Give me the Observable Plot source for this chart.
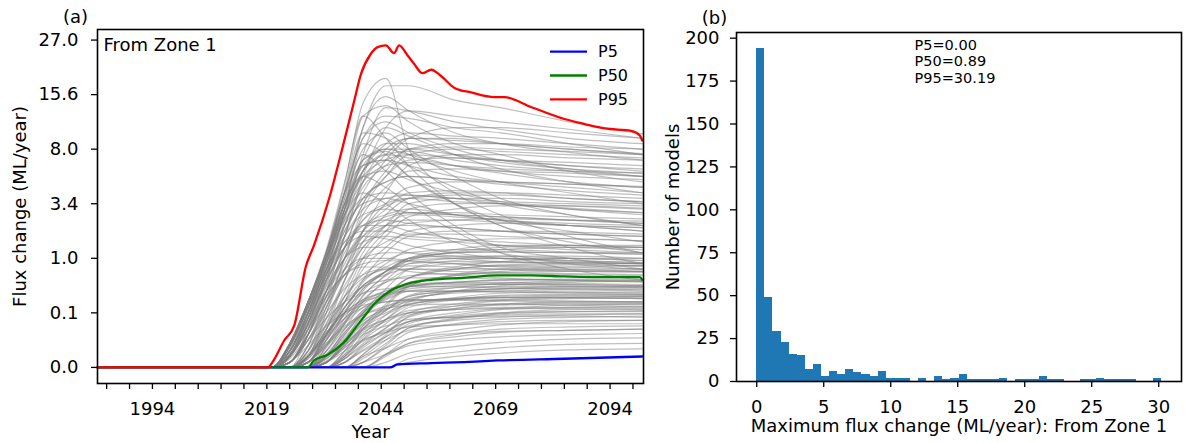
<!DOCTYPE html>
<html>
<head>
<meta charset="utf-8">
<script src="https://cdn.jsdelivr.net/npm/d3@7"></script>
<script src="https://cdn.jsdelivr.net/npm/@observablehq/plot@0.6"></script>
<style>
  body { margin: 0; background: #fff; }
  #wrap { display: flex; width: 1190px; height: 443px; background: #fff; }
</style>
</head>
<body>
<div id="wrap"></div>
<script>
// ---------- Panel (a): flux change through time, one line per model ----------
const GRAY_YEARS = [1982, 2020, 2024, 2028, 2032, 2036, 2040, 2045, 2050, 2060, 2070, 2085, 2101];

// Flux change (ML/year) of each model at GRAY_YEARS
const GRAY_MODELS = [
  // early risers that peak in the 2040s
  [0,0,0.008,0.195,1.16,4.74,14.2,18.6,8.0,4.1,2.74,1.73,1.16],
  [0,0,0.0034,0.125,0.857,3.72,10.6,17.2,17.2,14.7,13.5,11.4,9.8],
  [0,0,0.008,0.166,1.0,4.25,12.2,13.8,11.4,8.62,7.42,5.83,4.91],
  [0,0,0.0106,0.216,1.26,4.91,12.2,9.26,6.33,3.38,2.2,1.33,0.857],
  [0,0,0.0017,0.091,0.729,3.05,9.26,12.2,11.9,10.6,9.94,8.62,7.42],
  [0,0,0.008,0.166,1.0,4.1,9.94,9.26,7.42,5.83,4.91,4.1,3.38],
  [0,0,0.001,0.064,0.614,3.05,10.6,15.3,13.0,9.94,8.62,7.65,6.86],
  [0,0,0.0106,0.216,1.16,4.1,8.62,7.42,5.36,3.38,2.46,1.95,1.52],
  [0,0,0.0001,0.043,0.512,2.46,7.42,13.5,13.0,11.4,10.4,9.26,8.62],
  [0,0,0.0106,0.216,1.16,3.72,7.42,5.83,4.1,2.2,1.33,1.0,0.729],
  [0,0,0.0034,0.091,0.729,2.74,6.86,10.6,9.53,7.42,6.03,4.91,4.1],
  [0,0,0.0001,0.027,0.343,1.73,5.36,10.6,13.0,12.2,11.4,10.4,9.26],
  [0,0,0.008,0.195,1.06,3.38,5.36,4.49,3.38,1.95,1.16,0.729,0.512],
  [0,0,0.0034,0.125,0.857,3.05,6.86,7.76,6.33,4.49,3.38,2.74,2.2],
  [0,0,0.0106,0.216,1.0,2.74,4.1,3.38,2.46,1.52,1.16,0.857,0.729],
  [0,0,0.0034,0.125,0.857,3.38,8.0,9.94,8.0,5.36,3.72,2.74,2.2],
  [0,0,0.001,0.064,0.512,2.2,5.83,8.62,8.62,7.42,6.64,6.03,5.64],
  [0,0,0.0001,0.027,0.343,1.73,4.91,8.0,9.26,9.0,8.62,8.0,7.53],
  [0,0,0.008,0.176,0.941,3.05,6.33,6.86,5.36,3.38,2.2,1.52,1.16],
  [0,0,0.0017,0.091,0.681,2.63,5.83,7.42,7.08,6.33,5.83,5.36,5.09],
  [0,0,0.0106,0.216,1.16,4.1,9.26,11.4,9.94,8.0,6.86,6.03,5.36],
  // high plateau
  [0,0,0.001,0.064,0.729,2.74,5.83,8.62,9.94,9.53,9.26,8.62,8.0],
  [0,0,0,0.027,0.512,2.2,4.91,7.42,9.26,9.26,8.62,8.0,7.42],
  [0,0,0.0034,0.125,1.0,3.05,5.36,6.86,7.42,7.08,6.86,6.64,6.33],
  [0,0,0,0.008,0.216,1.33,3.38,5.83,8.0,8.62,8.62,8.24,8.0],
  [0,0,0.008,0.216,1.16,3.38,5.83,7.42,7.76,6.86,6.33,5.83,5.36],
  [0,0,0,0.001,0.125,1.0,3.05,5.36,7.42,8.0,7.76,7.42,7.08],
  [0,0,0.001,0.091,0.857,2.74,4.91,6.33,6.64,6.33,6.03,5.83,5.64],
  [0,0,0.0001,0.027,0.42,1.73,4.1,6.86,9.26,10.6,10.6,9.94,9.26],
  [0,0,0,0.0034,0.166,1.0,2.74,4.49,5.83,6.03,5.83,5.64,5.36],
  [0,0,0.008,0.195,1.16,4.1,6.33,6.86,6.33,5.36,4.91,4.49,4.1],
  [0,0,0,0.0001,0.043,0.512,1.95,4.1,6.33,7.42,7.42,7.08,6.86],
  [0,0,0.001,0.125,1.0,3.38,6.33,8.0,8.0,7.42,6.86,6.33,5.83],
  [0,0,0,0.008,0.275,1.33,3.38,5.36,6.86,7.08,6.86,6.33,6.03],
  [0,0,0.0001,0.043,0.614,2.2,4.49,6.33,8.0,8.24,8.0,7.76,7.42],
  [0,0,0.008,0.166,1.0,3.38,6.86,8.0,7.42,6.33,5.64,4.91,4.49],
  // middle
  [0,0,0.001,0.064,0.614,1.95,3.72,4.91,5.36,5.09,4.91,4.74,4.49],
  [0,0,0,0.0034,0.125,0.729,1.95,3.38,4.49,4.91,4.91,4.74,4.57],
  [0,0,0.008,0.216,1.0,2.46,3.72,4.1,3.94,3.72,3.51,3.38,3.24],
  [0,0,0,0.001,0.064,0.512,1.52,2.74,3.72,4.1,4.1,3.94,3.72],
  [0,0,0.0001,0.027,0.343,1.16,2.46,3.38,3.72,3.51,3.38,3.05,2.86],
  [0,0,0,0.0001,0.027,0.275,1.0,1.95,3.05,3.38,3.38,3.24,3.05],
  [0,0,0.0034,0.125,0.729,1.73,2.74,3.05,2.86,2.74,2.63,2.46,2.3],
  [0,0,0,0.008,0.166,0.729,1.73,2.46,2.86,2.86,2.74,2.63,2.52],
  [0,0,0,0,0.016,0.216,0.857,1.73,2.63,3.05,3.24,3.24,3.11],
  [0,0,0.001,0.064,0.512,1.33,2.2,2.46,2.3,2.1,1.95,1.82,1.73],
  [0,0,0,0.001,0.091,0.512,1.33,2.2,2.74,2.63,2.46,2.3,2.2],
  [0,0,0.0001,0.027,0.275,1.0,1.73,2.2,2.2,2.1,1.95,1.82,1.73],
  [0,0,0,0.0001,0.027,0.216,0.729,1.33,1.95,2.2,2.3,2.2,2.1],
  [0,0,0.008,0.166,0.729,1.52,1.95,1.95,1.73,1.64,1.52,1.4,1.33],
  [0,0,0,0.0034,0.091,0.42,1.0,1.52,1.82,1.82,1.73,1.64,1.56],
  [0,0,0,0,0.008,0.125,0.512,1.16,1.73,1.95,1.95,1.91,1.82],
  [0,0,0.001,0.043,0.343,1.0,1.52,1.73,1.64,1.52,1.4,1.33,1.26],
  [0,0,0.0001,0.016,0.216,0.857,1.95,3.05,4.1,4.25,4.1,3.72,3.51],
  [0,0,0,0.001,0.043,0.343,1.16,2.2,3.38,3.72,3.72,3.51,3.38],
  [0,0,0.0034,0.091,0.512,1.33,2.2,2.74,3.05,2.74,2.46,2.2,1.95],
  [0,0,0.008,0.166,0.857,2.2,3.38,3.72,3.38,2.74,2.46,2.2,1.95],
  [0,0,0.0058,0.125,0.614,1.52,2.2,2.2,1.95,1.64,1.4,1.26,1.16],
  [0,0,0.0106,0.195,1.0,3.05,5.36,5.83,5.09,4.1,3.51,3.05,2.74],
  [0,0,0.0034,0.091,0.42,1.0,1.33,1.33,1.16,1.0,0.913,0.857,0.804],
  [0,0,0.008,0.141,0.729,1.95,3.72,4.91,5.36,5.09,4.74,4.25,3.94],
  [0,0,0.0017,0.064,0.343,0.729,1.0,1.0,0.941,0.857,0.779,0.729,0.681],
  [0,0,0.001,0.043,0.275,0.614,0.779,0.779,0.681,0.614,0.551,0.512,0.475],
  [0,0,0.0034,0.111,0.614,1.73,3.05,3.72,3.94,3.72,3.38,3.11,2.86],
  [0,0,0.0005,0.027,0.216,0.729,1.52,2.2,2.46,2.46,2.35,2.2,2.1],
  [0,0,0.0001,0.016,0.166,0.614,1.33,1.95,2.3,2.46,2.52,2.46,2.41],
  [0,0,0.001,0.055,0.343,1.0,1.95,2.63,2.86,2.74,2.63,2.46,2.3],
  [0,0,0.0058,0.125,0.614,1.33,1.73,1.64,1.4,1.16,1.0,0.913,0.857],
  [0,0,0.0017,0.074,0.475,1.33,2.46,3.24,3.72,3.94,3.94,3.72,3.51],
  // around 1 ML/year
  [0,0,0,0.001,0.043,0.275,0.614,0.941,1.16,1.26,1.26,1.19,1.16],
  [0,0,0.0001,0.027,0.216,0.614,1.0,1.16,1.16,1.06,1.0,0.941,0.885],
  [0,0,0,0,0.008,0.091,0.343,0.681,1.0,1.16,1.19,1.16,1.12],
  [0,0,0,0.0001,0.027,0.166,0.42,0.681,0.857,0.913,0.913,0.885,0.857],
  [0,0,0.001,0.043,0.275,0.614,0.857,0.941,0.913,0.857,0.804,0.779,0.729],
  [0,0,0,0,0.001,0.043,0.216,0.512,0.857,1.0,1.06,1.06,1.0],
  [0,0,0,0.0034,0.064,0.275,0.551,0.729,0.804,0.779,0.729,0.705,0.681],
  [0,0,0,0,0.0034,0.064,0.275,0.614,1.0,1.26,1.4,1.4,1.33],
  [0,0,0.0001,0.016,0.125,0.373,0.614,0.729,0.729,0.681,0.659,0.636,0.614],
  [0,0,0,0.0001,0.016,0.125,0.373,0.681,0.941,1.0,1.0,0.941,0.885],
  [0,0,0,0,0.0001,0.016,0.125,0.373,0.729,0.941,1.0,1.0,0.941],
  [0,0,0,0.001,0.027,0.166,0.42,0.614,0.729,0.729,0.729,0.681,0.659],
  [0,0,0,0.001,0.043,0.216,0.512,0.779,1.0,1.06,1.06,1.0,0.941],
  [0,0,0,0.0001,0.022,0.166,0.475,0.857,1.26,1.52,1.64,1.64,1.56],
  [0,0,0,0,0.0034,0.064,0.238,0.475,0.729,0.857,0.885,0.885,0.857],
  [0,0,0,0.0005,0.027,0.141,0.314,0.475,0.593,0.636,0.636,0.614,0.593],
  [0,0,0,0,0.001,0.027,0.125,0.275,0.475,0.593,0.659,0.681,0.681],
  [0,0,0,0.0017,0.055,0.216,0.405,0.512,0.551,0.551,0.531,0.512,0.493],
  [0,0,0,0,0.0001,0.0156,0.111,0.287,0.551,0.729,0.831,0.857,0.857],
  [0,0,0,0,0.0017,0.033,0.141,0.314,0.551,0.729,0.804,0.831,0.804],
  [0,0,0,0,0,0.0034,0.055,0.195,0.42,0.593,0.681,0.729,0.729],
  [0,0,0,0.001,0.027,0.166,0.42,0.681,0.941,1.16,1.26,1.33,1.33],
  [0,0,0,0,0.0058,0.074,0.287,0.593,0.941,1.19,1.33,1.4,1.4],
  [0,0,0,0.0001,0.0156,0.125,0.373,0.681,1.0,1.16,1.19,1.16,1.12],
  [0,0,0,0,0.0001,0.0106,0.091,0.275,0.551,0.779,0.913,1.0,1.0],
  [0,0,0,0,0,0.0017,0.043,0.176,0.405,0.614,0.729,0.779,0.804],
  // low flux
  [0,0,0,0.0001,0.016,0.091,0.216,0.343,0.439,0.475,0.475,0.456,0.439],
  [0,0,0,0,0.0034,0.043,0.141,0.25,0.373,0.42,0.439,0.439,0.42],
  [0,0,0,0,0.0001,0.008,0.055,0.141,0.275,0.343,0.373,0.373,0.358],
  [0,0,0,0.001,0.027,0.111,0.216,0.287,0.343,0.343,0.343,0.329,0.314],
  [0,0,0,0,0,0.001,0.016,0.064,0.166,0.238,0.287,0.301,0.301],
  [0,0,0,0,0.001,0.022,0.08,0.149,0.216,0.25,0.262,0.262,0.25],
  [0,0,0,0,0,0.0001,0.0058,0.033,0.097,0.157,0.195,0.216,0.216],
  [0,0,0,0.0001,0.0106,0.055,0.111,0.157,0.185,0.195,0.195,0.185,0.176],
  [0,0,0,0,0,0,0.001,0.016,0.064,0.111,0.149,0.166,0.176],
  [0,0,0,0,0.0005,0.0106,0.043,0.085,0.125,0.149,0.157,0.157,0.149],
  [0,0,0,0,0,0.0005,0.008,0.033,0.074,0.104,0.125,0.133,0.133],
  [0,0,0,0,0.0001,0.0058,0.027,0.055,0.085,0.097,0.104,0.104,0.097],
  [0,0,0,0,0,0,0.0001,0.0058,0.033,0.064,0.085,0.097,0.104],
  [0,0,0,0,0,0.0001,0.0034,0.016,0.039,0.059,0.074,0.08,0.08],
  [0,0,0,0,0.0001,0.0034,0.016,0.033,0.051,0.059,0.064,0.064,0.064],
  [0,0,0,0,0,0,0,0.001,0.0106,0.027,0.043,0.051,0.055],
  [0,0,0,0,0,0,0.001,0.0058,0.0176,0.03,0.036,0.039,0.043],
  [0,0,0,0,0,0,0.0001,0.0017,0.008,0.016,0.022,0.027,0.03],
  [0,0,0,0,0,0,0,0.0001,0.0022,0.0069,0.012,0.0176,0.0197],
  [0,0,0,0,0,0,0,0,0.0005,0.0027,0.0058,0.0093,0.0106],
  [0,0,0,0,0,0,0,0,0.0001,0.001,0.0022,0.0041,0.0049],
  [0,0,0,0.0001,0.008,0.064,0.166,0.287,0.405,0.475,0.512,0.512,0.512],
  [0,0,0,0,0.001,0.027,0.125,0.262,0.405,0.475,0.512,0.531,0.531],
  [0,0,0,0,0,0.0034,0.043,0.141,0.287,0.389,0.456,0.493,0.493],
  [0,0,0.0001,0.0156,0.091,0.216,0.314,0.373,0.405,0.405,0.389,0.373,0.373],
  [0,0,0,0,0.0001,0.0106,0.064,0.149,0.25,0.314,0.343,0.358,0.343],
  [0,0,0,0,0,0,0.0017,0.027,0.104,0.176,0.227,0.25,0.262],
  [0,0,0,0.0005,0.022,0.091,0.166,0.216,0.238,0.238,0.238,0.227,0.216],
  [0,0,0,0,0,0.0005,0.0106,0.047,0.111,0.157,0.185,0.195,0.195],
  [0,0,0,0,0.0001,0.0058,0.033,0.074,0.125,0.149,0.166,0.166,0.166],
  [0,0,0,0,0,0,0.0005,0.0106,0.047,0.085,0.118,0.133,0.141],
  [0,0,0,0,0,0.0001,0.0041,0.022,0.055,0.08,0.097,0.111,0.118],
  [0,0,0,0,0,0,0,0.0017,0.0176,0.039,0.059,0.074,0.08],
  [0,0,0,0,0,0,0,0.0017,0.0106,0.022,0.033,0.039,0.043],
  [0,0,0,0.001,0.033,0.125,0.238,0.343,0.42,0.456,0.456,0.439,0.42],
  [0,0,0,0,0.0017,0.033,0.125,0.238,0.343,0.389,0.405,0.405,0.389],
  [0,0,0,0,0,0.001,0.022,0.085,0.185,0.262,0.314,0.329,0.329],
  [0,0,0,0,0,0,0.0001,0.008,0.047,0.091,0.125,0.149,0.157],
  [0,0,0.0001,0.008,0.055,0.125,0.185,0.216,0.238,0.238,0.227,0.216,0.216],
  [0,0,0,0,0,0.0017,0.0138,0.039,0.074,0.097,0.111,0.118,0.118],
  [0,0,0,0.0001,0.0106,0.074,0.195,0.314,0.405,0.439,0.439,0.42,0.405],
  [0,0,0,0.001,0.033,0.125,0.238,0.314,0.343,0.343,0.329,0.314,0.301],
  [0,0,0,0,0.0005,0.0156,0.074,0.166,0.275,0.343,0.373,0.389,0.389],
  [0,0,0,0,0,0.001,0.027,0.111,0.238,0.329,0.373,0.405,0.405],
  [0,0,0,0.0001,0.008,0.047,0.111,0.176,0.227,0.25,0.262,0.262,0.25],
  [0,0,0,0,0.0001,0.008,0.047,0.111,0.195,0.25,0.275,0.287,0.287],
  [0,0,0,0,0,0.0001,0.008,0.047,0.125,0.195,0.238,0.262,0.275],
  [0,0,0,0,0.0002,0.008,0.039,0.085,0.141,0.176,0.195,0.205,0.205],
  [0,0,0,0,0,0,0.0017,0.022,0.074,0.125,0.157,0.185,0.195],
  [0,0,0,0,0.001,0.0176,0.064,0.125,0.195,0.238,0.262,0.275,0.275],
  [0,0,0,0,0,0.0005,0.0176,0.085,0.216,0.343,0.42,0.475,0.493]
];

// Percentile envelopes (ML/year)
const P5_YEARS  = [1982, 2046.0, 2047.5, 2054.9, 2062.1, 2069.4, 2084.0, 2101];
const P5_VALUES = [0, 0, 0.00002, 0.00006, 0.00012, 0.00026, 0.0005, 0.001];

const P50_YEARS  = [1982, 2027.9, 2029.3, 2032.3, 2035.9, 2039.6, 2043.2, 2046.1, 2049.8, 2054.9, 2062.1, 2069.4, 2076.7, 2084.0, 2091.3, 2100.5, 2101];
const P50_VALUES = [0, 0, 0.00026, 0.0016, 0.0125, 0.08, 0.231, 0.351, 0.451, 0.518, 0.555, 0.599, 0.599, 0.579, 0.566, 0.566, 0.518];

const P95_YEARS  = [1982, 2019.2, 2020.2, 2022.8, 2025.0, 2027.5, 2029.3, 2032.6, 2035.2, 2038.1, 2039.6, 2041.7, 2043.2, 2045.0, 2046.8, 2047.9, 2049.8, 2051.2, 2053.0, 2054.9, 2057.0, 2060.0, 2063.6, 2068.7, 2070.9, 2076.7, 2084.0, 2088.4, 2092.8, 2098.6, 2100.5, 2101];
const P95_VALUES = [0, 0, 0.0001, 0.015, 0.057, 0.78, 1.4, 3.69, 7.5, 14.6, 19.5, 23.7, 25.3, 25.7, 23.9, 25.7, 23.3, 21.5, 19.6, 20.3, 19.1, 16.8, 16.0, 15.2, 15.2, 13.6, 11.8, 11.1, 10.5, 10.2, 9.6, 9.0];

const YEAR_TICKS  = d3.range(1984, 2100, 5);
const YEAR_LABELS = [1994, 2019, 2044, 2069, 2094];
const FLUX_TICKS  = [0, 0.125, 1, 3.375, 8, 15.625, 27];

const PCT_NAMES  = ["P5", "P50", "P95"];
const PCT_COLORS = ["#0000ff", "#008000", "#ff0000"];

// ---------- Panel (b): histogram of each model's maximum flux change ----------
const HIST_MAX = 30.19;
const HIST_COUNTS = [194, 49, 29, 23, 16, 15, 7, 10, 3, 6,
                     4, 7, 5, 4, 3, 6, 2, 2, 2, 0,
                     2, 0, 3, 1, 2, 4, 1, 1, 1, 1,
                     2, 0, 1, 1, 1, 3, 1, 1, 0, 0,
                     1, 1, 2, 1, 1, 1, 1, 0, 0, 2];
const MAX_PCT = [0.00, 0.89, 30.19];
const MAXFLUX_TICKS = [0, 5, 10, 15, 20, 25, 30];
const COUNT_TICKS = [0, 25, 50, 75, 100, 125, 150, 175, 200];

const FONT = "DejaVu Sans, sans-serif";
const baseStyle = {fontFamily: FONT, fontSize: "18px", color: "#000", background: "#fff", overflow: "visible"};

const grayRows = GRAY_MODELS.flatMap((vals, m) =>
  vals.map((v, i) => ({model: m, year: GRAY_YEARS[i], value: v})));
const series = (years, values) => years.map((y, i) => ({year: y, value: values[i]}));
const label = (s, o) => Plot.text([s], {text: d => d, textAnchor: "middle", lineAnchor: "middle", fontSize: 18, ...o});

const left = Plot.plot({
  width: 660, height: 443,
  marginLeft: 97, marginRight: 17, marginTop: 29, marginBottom: 60,
  style: baseStyle,
  x: {domain: [1982, 2101.3]},
  y: {type: "pow", exponent: 1 / 3, domain: [-0.0032, 29.7]},
  marks: [
    Plot.line(grayRows, {x: "year", y: "value", z: "model", stroke: "#7f7f7f",
      strokeOpacity: 0.5, strokeWidth: 1.2, curve: "monotone-x"}),
    Plot.line(series(P5_YEARS, P5_VALUES), {x: "year", y: "value", stroke: PCT_COLORS[0], strokeWidth: 2.3, curve: "monotone-x"}),
    Plot.line(series(P50_YEARS, P50_VALUES), {x: "year", y: "value", stroke: PCT_COLORS[1], strokeWidth: 2.3, curve: "monotone-x"}),
    Plot.line(series(P95_YEARS, P95_VALUES), {x: "year", y: "value", stroke: PCT_COLORS[2], strokeWidth: 2.3, curve: "monotone-x"}),
    Plot.axisX({ticks: YEAR_TICKS, tickFormat: d => YEAR_LABELS.includes(d) ? String(d) : "",
      tickSize: 6, tickPadding: 13, strokeWidth: 1.3, label: null}),
    Plot.axisY({ticks: FLUX_TICKS, tickFormat: d3.format(".1f"),
      tickSize: 6, tickPadding: 13, strokeWidth: 1.3, label: null}),
    Plot.frame({stroke: "#000", strokeWidth: 1.6}),
    label("Flux change (ML/year)", {frameAnchor: "left", dx: -77, rotate: -90}),
    label("Year", {frameAnchor: "bottom", dy: 49}),
    label("From Zone 1", {frameAnchor: "top-left", textAnchor: "start", dx: 6, dy: 16}),
    label("(a)", {frameAnchor: "top-left", dx: -22, dy: -12})
  ]
});

// Legend for the percentile lines, in the top-right corner of the frame
{
  const frameRight = 660 - 17, frameTop = 29;
  const g = d3.select(left).append("g")
    .attr("font-family", FONT).attr("font-size", 16).attr("text-anchor", "start");
  PCT_NAMES.forEach((name, i) => {
    const y = frameTop + 22.7 + i * 23.8;
    g.append("line").attr("x1", frameRight - 93).attr("x2", frameRight - 56)
      .attr("y1", y).attr("y2", y).attr("stroke", PCT_COLORS[i]).attr("stroke-width", 2.3);
    g.append("text").attr("x", frameRight - 45).attr("y", y).attr("dy", "0.35em")
      .attr("text-anchor", "start").attr("fill", "#000").text(name);
  });
}

const binW = HIST_MAX / HIST_COUNTS.length;
const bins = HIST_COUNTS.map((c, i) => ({x1: i * binW, x2: (i + 1) * binW, count: c}))
  .filter(b => b.count > 0);
const pctText = PCT_NAMES.map((n, i) => `${n}=${MAX_PCT[i].toFixed(2)}`).join("\n");

const right = Plot.plot({
  width: 530, height: 443,
  marginLeft: 76, marginRight: 9, marginTop: 32, marginBottom: 62,
  style: baseStyle,
  x: {domain: [-1.51, 31.7]},
  y: {domain: [0, 203.3]},
  marks: [
    Plot.rectY(bins, {x1: "x1", x2: "x2", y: "count", fill: "#1f77b4", shapeRendering: "crispEdges"}),
    Plot.axisX({ticks: MAXFLUX_TICKS, tickSize: 6, tickPadding: 13, strokeWidth: 1.3, label: null}),
    Plot.axisY({ticks: COUNT_TICKS, tickSize: 6, tickPadding: 11, strokeWidth: 1.3, label: null}),
    Plot.frame({stroke: "#000", strokeWidth: 1.6}),
    label("Number of models", {frameAnchor: "left", dx: -63, rotate: -90}),
    label("Maximum flux change (ML/year): From Zone 1", {frameAnchor: "bottom", dy: 45}),
    Plot.text([pctText], {text: d => d, frameAnchor: "top-left", textAnchor: "start", lineAnchor: "top",
      dx: 178, dy: 6, fontSize: 14.5, lineHeight: 1.12}),
    label("(b)", {frameAnchor: "top-left", dx: -22, dy: -14})
  ]
});

document.getElementById("wrap").append(left, right);
</script>
</body>
</html>
